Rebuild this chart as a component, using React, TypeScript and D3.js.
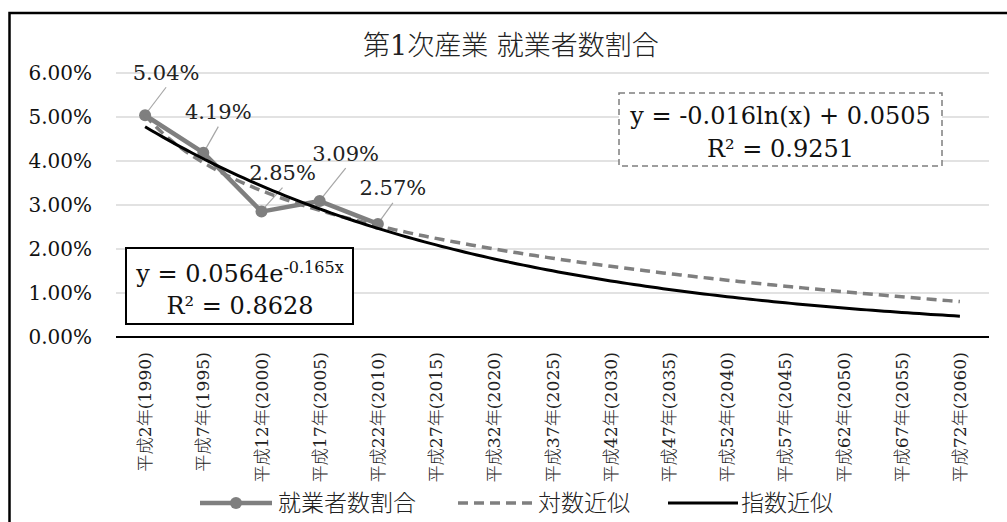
import React from "react";
import * as d3 from "d3";

// ---- data ----
const categories: string[] = [
  "平成2年(1990)", "平成7年(1995)", "平成12年(2000)", "平成17年(2005)", "平成22年(2010)",
  "平成27年(2015)", "平成32年(2020)", "平成37年(2025)", "平成42年(2030)", "平成47年(2035)",
  "平成52年(2040)", "平成57年(2045)", "平成62年(2050)", "平成67年(2055)", "平成72年(2060)",
];
const shareValues: number[] = [0.0504, 0.0419, 0.0285, 0.0309, 0.0257];
const yTicks: number[] = [0, 0.01, 0.02, 0.03, 0.04, 0.05, 0.06];
const legendLabels: string[] = ["就業者数割合", "対数近似", "指数近似"];
const titleText = "第1次産業 就業者数割合";
const logEqText = "y = -0.016ln(x) + 0.0505";
const logR2Text = "R² = 0.9251";
const expEqMain = "y = 0.0564e";
const expEqSup = "-0.165x";
const expR2Text = "R² = 0.8628";

// layout-only: label offsets (dx, dy) from each point
const labelOffsets: [number, number][] = [[21, -43], [15, -41], [21, -39], [26, -48], [15, -36]];

// ---- regressions (as Excel computes trendlines) ----
const xs = shareValues.map((_, i) => i + 1);
function linReg(u: number[], v: number[]) {
  const mu = d3.mean(u)!, mv = d3.mean(v)!;
  let sxy = 0, sxx = 0;
  u.forEach((ui, i) => { sxy += (ui - mu) * (v[i] - mv); sxx += (ui - mu) ** 2; });
  const b = sxy / sxx;
  return { a: mv - b * mu, b };
}
const logFit = linReg(xs.map(Math.log), shareValues);
const expFit = linReg(xs, shareValues.map(Math.log));
const logF = (x: number) => logFit.a + logFit.b * Math.log(x);
const expF = (x: number) => Math.exp(expFit.a) * Math.exp(expFit.b * x);

const SERIF = "'DejaVu Serif', 'Noto Sans CJK JP', serif";
const GRAY = "#7f7f7f";

export default function App() {
  const W = 1007, H = 522;
  const plot = { left: 116, right: 989, top: 73, bottom: 337 };
  const x = d3.scaleLinear().domain([0.5, categories.length + 0.5]).range([plot.left, plot.right]);
  const y = d3.scaleLinear().domain([0, 0.06]).range([plot.bottom, plot.top]);

  const trendXs = d3.range(1, categories.length + 0.0001, 0.1);
  const lineGen = d3.line<[number, number]>().x(d => x(d[0])).y(d => y(d[1]));
  const logPath = lineGen(trendXs.map(t => [t, logF(t)] as [number, number]))!;
  const expPath = lineGen(trendXs.map(t => [t, expF(t)] as [number, number]))!;
  const dataPath = lineGen(shareValues.map((v, i) => [i + 1, v] as [number, number]))!;

  const legendY = 503;

  return (
    <svg width={W} height={H} style={{ position: "absolute", left: 0, top: 0, background: "#fff" }}
      fontFamily={SERIF}>
      <rect x={0} y={0} width={W} height={H} fill="#fff" />
      {/* outer chart border (extends beyond view on right/bottom) */}
      <rect x={9.5} y={13} width={1100} height={600} fill="none" stroke="#000" strokeWidth={2.5} />

      {/* title */}
      <text x={511} y={55} textAnchor="middle" fontSize={27} fontWeight={300} fill="#222">{titleText}</text>

      {/* grid */}
      {yTicks.filter(t => t > 0).map(t => (
        <line key={t} x1={plot.left} x2={plot.right} y1={y(t)} y2={y(t)} stroke="#d9d9d9" strokeWidth={1.4} />
      ))}
      {/* y tick labels */}
      {yTicks.map(t => (
        <text key={"yl" + t} x={92} y={y(t)} dy="0.36em" textAnchor="end" fontSize={20} fill="#111">
          {d3.format(".2%")(t)}
        </text>
      ))}
      {/* x axis */}
      <line x1={plot.left} x2={plot.right} y1={plot.bottom} y2={plot.bottom} stroke="#000" strokeWidth={2.2} />
      {categories.map((c, i) => (
        <text key={c} transform={`translate(${x(i + 1)},352) rotate(-90)`} textAnchor="end" dy="0.35em"
          fontSize={17.2} fontWeight={300} fill="#222">{c}</text>
      ))}

      {/* data series */}
      {/* leader lines */}
      {shareValues.map((v, i) => {
        const px = x(i + 1), py = y(v);
        const [dx, dy] = labelOffsets[i];
        return <line key={"ld" + i} x1={px + 2} y1={py - 3} x2={px + dx} y2={py + dy + 15} stroke="#a6a6a6" strokeWidth={1.2} />;
      })}
      <path d={dataPath} fill="none" stroke={GRAY} strokeWidth={4.5} strokeLinejoin="round" />
      {shareValues.map((v, i) => (
        <circle key={"pt" + i} cx={x(i + 1)} cy={y(v)} r={6} fill={GRAY} />
      ))}
      {/* trendlines */}
      <path d={logPath} fill="none" stroke={GRAY} strokeWidth={3.5} strokeDasharray="10,6" />
      <path d={expPath} fill="none" stroke="#000" strokeWidth={3} />

      {/* data labels */}
      {shareValues.map((v, i) => {
        const [dx, dy] = labelOffsets[i];
        return (
          <text key={"lb" + i} x={x(i + 1) + dx} y={y(v) + dy} dy="0.36em" textAnchor="middle" fontSize={21} fill="#222">
            {d3.format(".2%")(v)}
          </text>
        );
      })}

      {/* log equation box */}
      <rect x={619} y={93} width={323} height={73} fill="#fff" stroke={GRAY} strokeWidth={1.5} strokeDasharray="6,4" />
      <text x={780.5} y={115} dy="0.36em" textAnchor="middle" fontSize={24} fill="#111">{logEqText}</text>
      <text x={780.5} y={148} dy="0.36em" textAnchor="middle" fontSize={24} fill="#111">{logR2Text}</text>

      {/* exp equation box */}
      <rect x={126} y={248} width={227} height={76} fill="#fff" stroke="#000" strokeWidth={2} />
      <text x={240} y={273} dy="0.36em" textAnchor="middle" fontSize={24} fill="#111">
        {expEqMain}
        <tspan fontSize={16} dy="-9">{expEqSup}</tspan>
      </text>
      <text x={240} y={305} dy="0.36em" textAnchor="middle" fontSize={24} fill="#111">{expR2Text}</text>

      {/* legend */}
      <line x1={200} x2={272} y1={legendY} y2={legendY} stroke={GRAY} strokeWidth={4.5} />
      <circle cx={236} cy={legendY} r={6} fill={GRAY} />
      <text x={278} y={legendY} dy="0.36em" fontSize={23} fontWeight={300} fill="#222">{legendLabels[0]}</text>
      <line x1={458} x2={534} y1={legendY} y2={legendY} stroke={GRAY} strokeWidth={3.5} strokeDasharray="10,6" />
      <text x={538} y={legendY} dy="0.36em" fontSize={23} fontWeight={300} fill="#222">{legendLabels[1]}</text>
      <line x1={668} x2={738} y1={legendY} y2={legendY} stroke="#000" strokeWidth={3} />
      <text x={741} y={legendY} dy="0.36em" fontSize={23} fontWeight={300} fill="#222">{legendLabels[2]}</text>
    </svg>
  );
}
